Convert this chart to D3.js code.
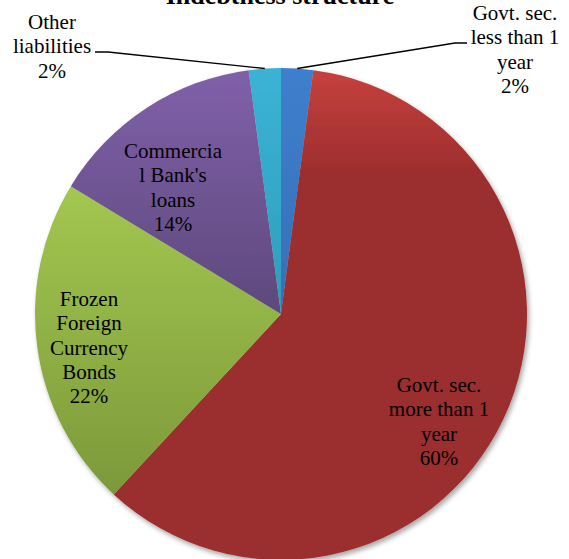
<!DOCTYPE html>
<html>
<head>
<meta charset="utf-8">
<script src="https://cdn.jsdelivr.net/npm/d3@7"></script>
<style>
  html, body { margin: 0; padding: 0; background: #fff; overflow: hidden; }
</style>
</head>
<body>
<svg id="chart"></svg>
<script>
// Data
const categories = [
  "Govt. sec. less than 1 year",
  "Govt. sec. more than 1 year",
  "Frozen Foreign Currency Bonds",
  "Commercial Bank's loans",
  "Other liabilities"
];
const shares = [2.1, 59.8, 21.8, 14.2, 2.1];
const pctLabels = ["2%", "60%", "22%", "14%", "2%"];
// label text as it is wrapped in the picture
const labelLines = [
  ["Govt. sec.", "less than 1", "year"],
  ["Govt. sec.", "more than 1", "year"],
  ["Frozen", "Foreign", "Currency", "Bonds"],
  ["Commercia", "l Bank's", "loans"],
  ["Other", "liabilities"]
];
const titleText = "Indebtness structure";

// Styles
const serif = '"Liberation Serif"';
const topColors = ["#3f7fcd", "#c6413e", "#a3c750", "#8060aa", "#3bb3d5"];
const bottomColors = ["#366fb6", "#9b2d2d", "#7c993a", "#5e497c", "#2e9dbd"];

// Layout
const width = 569, height = 559;
const cx = 281, cy = 314, radius = 246;
const lineGap = 24.3;
// label anchor (centre x, first baseline) relative to pie centre
const labelAnchors = [[234, -294], [158, 78], [-192, -8], [-108, -156], [-229, -285]];
// leader line elbows for outside labels
const leaders = {0: [[174, -271], [186, -271]], 4: [[-173, -262], [-186, -262]]};

const svg = d3.select("#chart")
  .attr("width", width)
  .attr("height", height);

const defs = svg.append("defs");

const shadow = defs.append("filter")
  .attr("id", "shadow")
  .attr("x", "-10%").attr("y", "-10%")
  .attr("width", "120%").attr("height", "120%");
shadow.append("feDropShadow")
  .attr("dx", 2).attr("dy", 3)
  .attr("stdDeviation", 2.5)
  .attr("flood-color", "#000")
  .attr("flood-opacity", 0.35);

// one vertical gradient per slice
categories.forEach((c, i) => {
  const g = defs.append("linearGradient")
    .attr("id", "grad" + i)
    .attr("x1", 0).attr("y1", 0)
    .attr("x2", 0).attr("y2", 1);
  g.append("stop").attr("offset", "0%").attr("stop-color", topColors[i]);
  g.append("stop").attr("offset", i === 1 ? "22%" : "100%").attr("stop-color", bottomColors[i]);
  if (i === 1) g.append("stop").attr("offset", "100%").attr("stop-color", bottomColors[i]);
});

// Title (cut at the top edge, as in the picture)
svg.append("text")
  .attr("x", 280)
  .attr("y", 4)
  .attr("text-anchor", "middle")
  .style("font-family", serif)
  .style("font-size", "26px")
  .style("font-weight", "bold")
  .attr("fill", "#000")
  .text(titleText);

const pie = d3.pie().sort(null).value(d => d)(shares);
const arc = d3.arc().innerRadius(0).outerRadius(radius);
const edgeArc = d3.arc().innerRadius(radius).outerRadius(radius);

const pieGroup = svg.append("g")
  .attr("transform", `translate(${cx}, ${cy})`);

pieGroup.append("g")
  .attr("filter", "url(#shadow)")
  .selectAll("path")
  .data(pie)
  .join("path")
  .attr("d", arc)
  .attr("fill", (d, i) => `url(#grad${i})`);

// Leader lines
const line = d3.line();
Object.entries(leaders).forEach(([i, pts]) => {
  const start = edgeArc.centroid(pie[+i]);
  pieGroup.append("path")
    .attr("d", line([start, ...pts]))
    .attr("fill", "none")
    .attr("stroke", "#000")
    .attr("stroke-width", 1.4);
});

// Labels
const labels = pieGroup.selectAll("text.slice-label")
  .data(pie)
  .join("text")
  .attr("class", "slice-label")
  .attr("text-anchor", "middle")
  .style("font-family", serif)
  .style("font-size", "21px")
  .attr("fill", "#000");

labels.each(function (d, i) {
  const t = d3.select(this);
  const lines = labelLines[i].concat([pctLabels[i]]);
  lines.forEach((s, k) => {
    t.append("tspan")
      .attr("x", labelAnchors[i][0])
      .attr("y", labelAnchors[i][1] + k * lineGap)
      .text(s);
  });
});
</script>
</body>
</html>
